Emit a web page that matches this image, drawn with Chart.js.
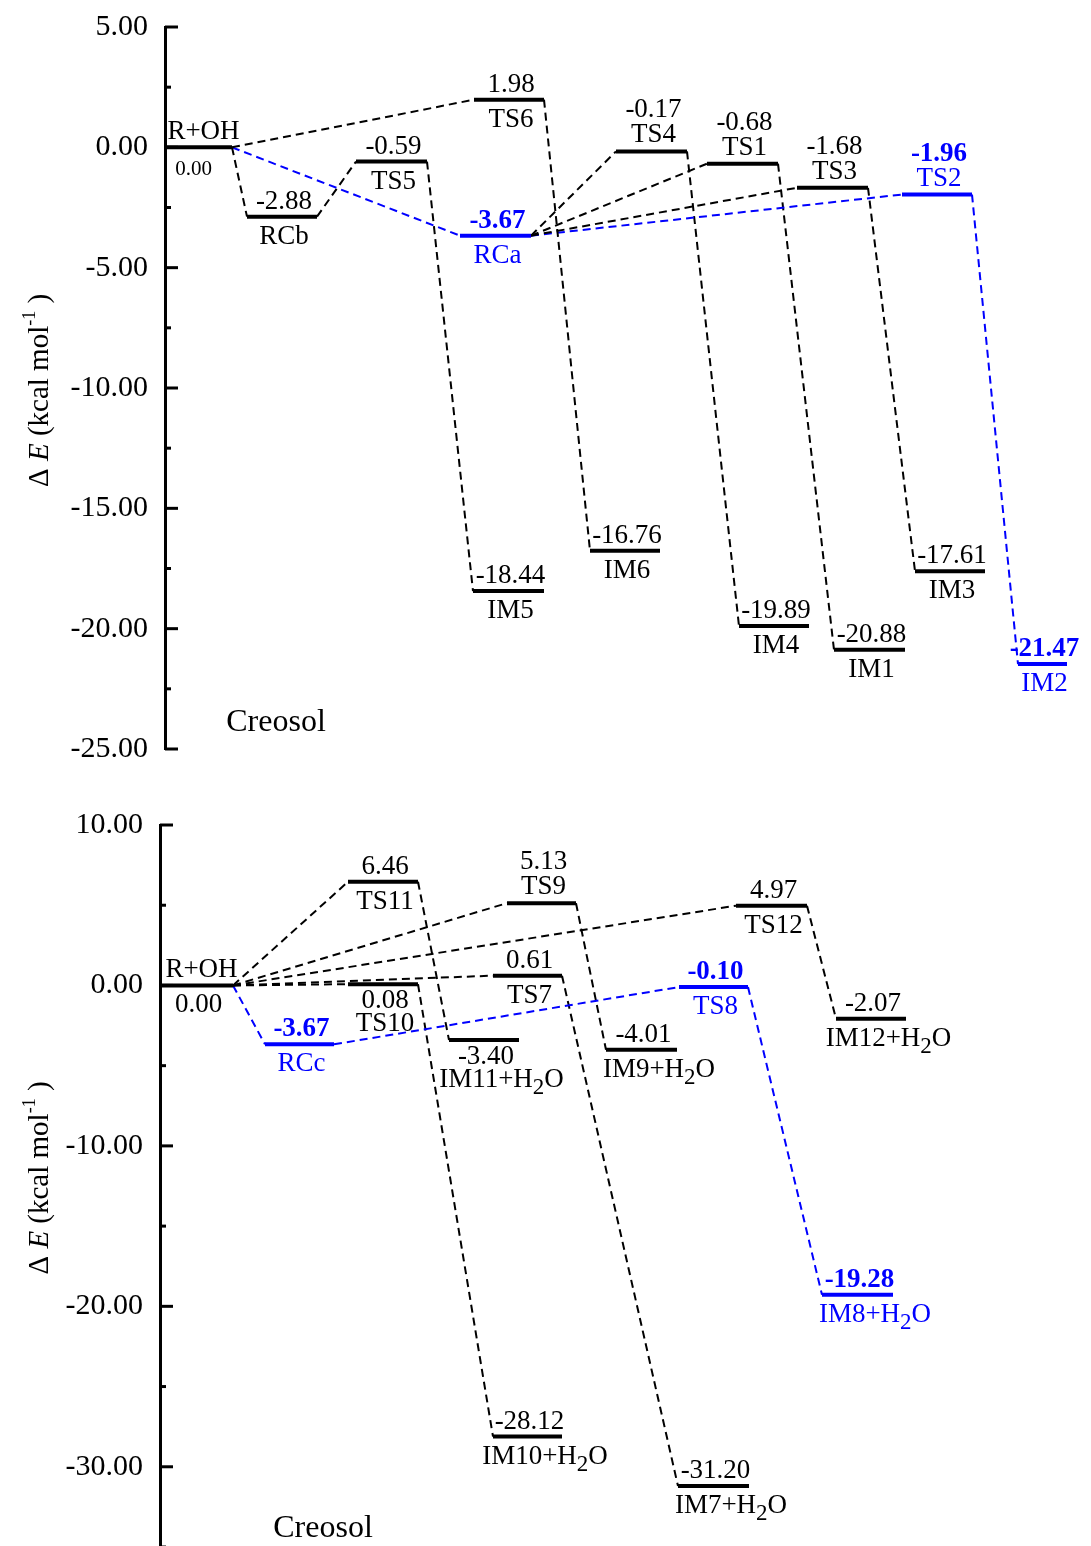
<!DOCTYPE html>
<html>
<head>
<meta charset="utf-8">
<title>Creosol + OH energy profile</title>
<script src="https://cdn.jsdelivr.net/npm/chart.js@4.4.1/dist/chart.umd.min.js"></script>
<style>
body{margin:0;background:#fff;width:1091px;height:1546px;overflow:hidden;position:relative}
canvas{position:absolute;left:0}
#topChart{top:0}
#bottomChart{top:775px}
</style>
</head>
<body>
<canvas id="topChart" width="1091" height="780"></canvas>
<canvas id="bottomChart" width="1091" height="800"></canvas>
<script>
// ---- top panel data (energies in kcal/mol, x = reaction coordinate) ----
const topNames  = ['R+OH','RCb','TS5','TS6','RCa','IM5','IM6','TS4','TS1','IM4','TS3','IM1','TS2','IM3','IM2']
const topEnergy = [0.00,-2.88,-0.59,1.98,-3.67,-18.44,-16.76,-0.17,-0.68,-19.89,-1.68,-20.88,-1.96,-17.61,-21.47]
const topFrom   = [0,82,191,309,295,308,425,451,542,574,632,669,737,750,853]
const topTo     = [67,152,262,379,366,379,495,522,613,644,703,740,807,820,902]
const topLabel  = ['nameUp','valUp','valUp','valUp','valUp','valUp','valUp','bothUp','bothUp','valUp','bothUp','valUp','bothUp','valUp','valUp']
const topLinks  = [['R+OH','TS6'],['R+OH','RCb'],['R+OH','RCa'],['RCb','TS5'],['TS5','IM5'],['TS6','IM6'],
                   ['RCa','TS4'],['RCa','TS1'],['RCa','TS3'],['RCa','TS2'],
                   ['TS4','IM4'],['TS1','IM1'],['TS3','IM3'],['TS2','IM2']]
const topBlue   = ['RCa','TS2','IM2']

// ---- bottom panel data ----
const botNames  = ['R+OH','TS11','TS10','RCc','TS9','TS7','IM11+H2O','TS12','TS8','IM9+H2O','IM12+H2O','IM8+H2O','IM10+H2O','IM7+H2O']
const botEnergy = [0.00,6.46,0.08,-3.67,5.13,0.61,-3.40,4.97,-0.10,-4.01,-2.07,-19.28,-28.12,-31.20]
const botFrom   = [0,188,188,105,347,333,289,576,519,446,676,662,333,518]
const botTo     = [73,258,258,174,416,402,359,647,588,517,746,733,402,589]
const botLabel  = ['nameUp','valUp','bothDown','valUp','bothUp','valUp','bothDown','valUp','valUp','valUp','valUp','valUp','valUp','valUp']
const botLinks  = [['R+OH','TS11'],['R+OH','TS9'],['R+OH','TS12'],['R+OH','TS7'],['R+OH','TS10'],['R+OH','RCc'],
                   ['RCc','TS8'],['TS11','IM11+H2O'],['TS10','IM10+H2O'],['TS9','IM9+H2O'],['TS7','IM7+H2O'],
                   ['TS12','IM12+H2O'],['TS8','IM8+H2O']]
const botBlue   = ['RCc','TS8','IM8+H2O']

const SERIF = '"Liberation Serif", "Times New Roman", serif'
const BLUE = '#0000ff'

const offsets = {
  valUp:    {val: -8,  name: 27},
  bothUp:   {val: -34, name: -9},
  bothDown: {val: 24,  name: 47},
  nameUp:   {val: 27,  name: -8}
}

let buildDatasets = (names, energy, from, to, links, blue) => {
  const ds = []
  // levels first so they sit on top of the dashed lines
  names.forEach((n, i) => {
    ds.push({
      data: [{x: from[i], y: energy[i]}, {x: to[i], y: energy[i]}],
      borderColor: blue.includes(n) ? BLUE : '#000',
      borderWidth: 4
    })
  })
  links.forEach(([a, b]) => {
    const i = names.indexOf(a), j = names.indexOf(b)
    const isBlue = blue.includes(b) && (a === 'R+OH' || blue.includes(a))
    ds.push({
      data: [{x: to[i], y: energy[i]}, {x: from[j], y: energy[j]}],
      borderColor: isBlue ? BLUE : '#000',
      borderWidth: 2,
      borderDash: [8, 5]
    })
  })
  return ds
}

// text with H2O subscript; names with a subscript are anchored on the part before it
function drawRich(ctx, text, cx, baseY, size, bold, color) {
  const parts = text.split(/(?<=H)(2)(?=O)/)
  const big = (bold ? 'bold ' : '') + size + 'px ' + SERIF
  const sub = (bold ? 'bold ' : '') + Math.round(size * 0.85) + 'px ' + SERIF
  let w = 0
  ctx.font = big
  if (parts.length > 1) w = ctx.measureText(parts[0]).width
  else w = ctx.measureText(text).width
  let x = cx - w / 2
  ctx.fillStyle = color
  ctx.textAlign = 'left'
  ctx.textBaseline = 'alphabetic'
  parts.forEach((p, k) => {
    ctx.font = k % 2 ? sub : big
    ctx.fillText(p, x, baseY + (k % 2 ? 7 : 0))
    x += ctx.measureText(p).width
  })
}

const energyPlugin = {
  id: 'energy',
  afterDraw(chart, args, opts) {
    const ctx = chart.ctx
    const xs = chart.scales.x, ys = chart.scales.y
    const area = chart.chartArea
    ctx.save()

    // inward tick marks
    ctx.strokeStyle = '#000'
    ctx.lineWidth = 3
    ys.ticks.forEach(t => {
      const py = ys.getPixelForValue(t.value)
      const len = Math.abs(t.value % opts.major) < 1e-9 ? 13 : 6
      ctx.beginPath()
      ctx.moveTo(area.left, py)
      ctx.lineTo(area.left + len, py)
      ctx.stroke()
    })

    // level labels
    opts.names.forEach((n, i) => {
      const cx = xs.getPixelForValue((opts.from[i] + opts.to[i]) / 2) + 2
      const py = ys.getPixelForValue(opts.energy[i])
      const mode = opts.label[i]
      const off = offsets[mode]
      const blue = opts.blue.includes(n)
      const col = blue ? BLUE : '#000'
      let vSize = 27
      let vOff = off.val
      let vx = cx
      if (mode === 'nameUp' && opts.smallStart) { vSize = 21; vOff = 28; vx = cx - 7 }
      drawRich(ctx, opts.energy[i].toFixed(2), vx, py + vOff, vSize, blue, col)
      drawRich(ctx, n, mode === 'nameUp' ? cx + 3 : cx, py + off.name, 27, false, col)
    })

    // panel caption
    ctx.fillStyle = '#000'
    ctx.font = '32px ' + SERIF
    ctx.textAlign = 'center'
    ctx.textBaseline = 'alphabetic'
    ctx.fillText('Creosol', xs.getPixelForValue(opts.caption[0]), ys.getPixelForValue(opts.caption[1]))

    // y axis title, rotated
    const segs = [['\u0394 ', '', 29, 0], ['E', 'italic ', 29, 0], [' (kcal mol', '', 29, 0], ['-1', '', 18, -13], [' )', '', 29, 0]]
    let w = 0
    segs.forEach(s => { ctx.font = s[1] + s[2] + 'px ' + SERIF; w += ctx.measureText(s[0]).width })
    ctx.translate(48, ys.getPixelForValue(opts.titleAt))
    ctx.rotate(-Math.PI / 2)
    ctx.textAlign = 'left'
    let x = -w / 2
    segs.forEach(s => {
      ctx.font = s[1] + s[2] + 'px ' + SERIF
      ctx.fillText(s[0], x, s[3])
      x += ctx.measureText(s[0]).width
    })
    ctx.restore()
  }
}

let makeChart = (id, cfg) => {
  return new Chart(id, {
    type: 'line',
    data: {datasets: buildDatasets(cfg.names, cfg.energy, cfg.from, cfg.to, cfg.links, cfg.blue)},
    options: {
      responsive: false,
      devicePixelRatio: 1,
      animation: false,
      events: [],
      layout: {padding: {top: cfg.padTop, bottom: cfg.padBottom, left: 0, right: 0}},
      elements: {point: {radius: 0}, line: {tension: 0, borderCapStyle: 'butt'}},
      scales: {
        x: {type: 'linear', display: false, min: 0, max: cfg.xMax},
        y: {
          type: 'linear', min: cfg.yMin, max: cfg.yMax,
          afterFit: s => { s.width = cfg.axisLeft; s.paddingTop = 0; s.paddingBottom = 0 },
          grid: {display: false, drawTicks: false},
          border: {display: true, color: '#000', width: 3},
          ticks: {
            stepSize: cfg.step, autoSkip: false, padding: 17, color: '#000',
            font: {family: SERIF, size: 30},
            callback: v => Math.abs(v % cfg.major) < 1e-9 ? v.toFixed(2) : ''
          }
        }
      },
      plugins: {
        legend: {display: false},
        tooltip: {enabled: false},
        energy: {
          names: cfg.names, energy: cfg.energy, from: cfg.from, to: cfg.to,
          label: cfg.label, blue: cfg.blue, major: cfg.major,
          smallStart: cfg.smallStart, caption: cfg.caption, titleAt: cfg.titleAt
        }
      }
    },
    plugins: [energyPlugin]
  })
}

makeChart('topChart', {
  names: topNames, energy: topEnergy, from: topFrom, to: topTo, links: topLinks, blue: topBlue, label: topLabel,
  yMin: -25, yMax: 5, step: 2.5, major: 5, xMax: 926, axisLeft: 165, padTop: 27, padBottom: 31,
  smallStart: true, caption: [111, -24.25], titleAt: -10.1
})

makeChart('bottomChart', {
  names: botNames, energy: botEnergy, from: botFrom, to: botTo, links: botLinks, blue: botBlue, label: botLabel,
  yMin: -35, yMax: 10, step: 5, major: 10, xMax: 931, axisLeft: 160, padTop: 50, padBottom: 28,
  smallStart: false, caption: [163, -34.4], titleAt: -12
})
</script>
</body>
</html>
